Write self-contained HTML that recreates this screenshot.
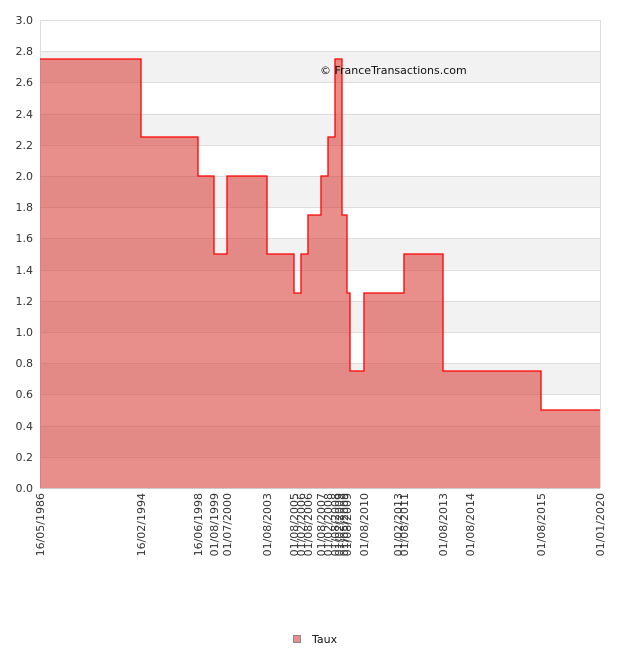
<!DOCTYPE html><html><head><meta charset="utf-8"><style>body{margin:0;background:#fff}svg{display:block;font-family:"DejaVu Sans","Liberation Sans",sans-serif}</style></head><body>
<svg width="640" height="650" viewBox="0 0 640 650">
<rect width="640" height="650" fill="#fff"/>
<g fill="#f2f2f2">
<rect x="40" y="51.2" width="560" height="31.2"/>
<rect x="40" y="113.6" width="560" height="31.2"/>
<rect x="40" y="176" width="560" height="31.2"/>
<rect x="40" y="238.4" width="560" height="31.2"/>
<rect x="40" y="300.8" width="560" height="31.2"/>
<rect x="40" y="363.2" width="560" height="31.2"/>
<rect x="40" y="425.6" width="560" height="31.2"/>
</g>
<g stroke="#ddd" stroke-width="1">
<line x1="40" x2="600" y1="20.5" y2="20.5"/><line x1="40" x2="600" y1="51.5" y2="51.5"/><line x1="40" x2="600" y1="82.5" y2="82.5"/><line x1="40" x2="600" y1="114.5" y2="114.5"/><line x1="40" x2="600" y1="145.5" y2="145.5"/><line x1="40" x2="600" y1="176.5" y2="176.5"/><line x1="40" x2="600" y1="207.5" y2="207.5"/><line x1="40" x2="600" y1="238.5" y2="238.5"/><line x1="40" x2="600" y1="270.5" y2="270.5"/><line x1="40" x2="600" y1="301.5" y2="301.5"/><line x1="40" x2="600" y1="332.5" y2="332.5"/><line x1="40" x2="600" y1="363.5" y2="363.5"/><line x1="40" x2="600" y1="394.5" y2="394.5"/><line x1="40" x2="600" y1="426.5" y2="426.5"/><line x1="40" x2="600" y1="457.5" y2="457.5"/><line x1="40.5" x2="40.5" y1="20" y2="488"/><line x1="600.5" x2="600.5" y1="20" y2="488"/>
</g>
<path d="M40 488 L40 59 L141 59 L141 137 L198 137 L198 176 L214 176 L214 254 L227 254 L227 176 L267 176 L267 254 L294 254 L294 293 L301 293 L301 254 L308 254 L308 215 L321 215 L321 176 L328 176 L328 137 L335 137 L335 59 L342 59 L342 215 L347 215 L347 293 L350 293 L350 371 L364 371 L364 293 L404 293 L404 254 L443 254 L443 371 L541 371 L541 410 L600 410 L600 488 Z" fill="rgba(217,68,62,0.6)" stroke="none"/>
<path d="M40 59 L141 59 L141 137 L198 137 L198 176 L214 176 L214 254 L227 254 L227 176 L267 176 L267 254 L294 254 L294 293 L301 293 L301 254 L308 254 L308 215 L321 215 L321 176 L328 176 L328 137 L335 137 L335 59 L342 59 L342 215 L347 215 L347 293 L350 293 L350 371 L364 371 L364 293 L404 293 L404 254 L443 254 L443 371 L541 371 L541 410 L600 410" fill="none" stroke="#f00" stroke-width="1.3"/>
<line x1="40" x2="600" y1="488.5" y2="488.5" stroke="#ccc"/>
<g font-size="11" fill="#333" text-anchor="end">
<text x="33" y="24">3.0</text><text x="33" y="55">2.8</text><text x="33" y="86">2.6</text><text x="33" y="118">2.4</text><text x="33" y="149">2.2</text><text x="33" y="180">2.0</text><text x="33" y="211">1.8</text><text x="33" y="242">1.6</text><text x="33" y="274">1.4</text><text x="33" y="305">1.2</text><text x="33" y="336">1.0</text><text x="33" y="367">0.8</text><text x="33" y="398">0.6</text><text x="33" y="430">0.4</text><text x="33" y="461">0.2</text><text x="33" y="492">0.0</text>
</g>
<g font-size="11" fill="#333" text-anchor="end">
<text transform="translate(44,493) rotate(-90)">16/05/1986</text>
<text transform="translate(145,493) rotate(-90)">16/02/1994</text>
<text transform="translate(202,493) rotate(-90)">16/06/1998</text>
<text transform="translate(218,493) rotate(-90)">01/08/1999</text>
<text transform="translate(231,493) rotate(-90)">01/07/2000</text>
<text transform="translate(271,493) rotate(-90)">01/08/2003</text>
<text transform="translate(298,493) rotate(-90)">01/08/2005</text>
<text transform="translate(305,493) rotate(-90)">01/02/2006</text>
<text transform="translate(312,493) rotate(-90)">01/08/2006</text>
<text transform="translate(325,493) rotate(-90)">01/08/2007</text>
<text transform="translate(332,493) rotate(-90)">01/02/2008</text>
<text transform="translate(339,493) rotate(-90)">01/08/2008</text>
<text transform="translate(343,493) rotate(-90)">01/02/2009</text>
<text transform="translate(348,493) rotate(-90)">01/05/2009</text>
<text transform="translate(351,493) rotate(-90)">01/08/2009</text>
<text transform="translate(368,493) rotate(-90)">01/08/2010</text>
<text transform="translate(402,493) rotate(-90)">01/02/2013</text>
<text transform="translate(408,493) rotate(-90)">01/08/2011</text>
<text transform="translate(447,493) rotate(-90)">01/08/2013</text>
<text transform="translate(474,493) rotate(-90)">01/08/2014</text>
<text transform="translate(545,493) rotate(-90)">01/08/2015</text>
<text transform="translate(604,493) rotate(-90)">01/01/2020</text>
</g>
<text x="320" y="74" font-size="11" fill="#111">© FranceTransactions.com</text>
<rect x="293.5" y="635.5" width="7" height="7" fill="rgba(217,68,62,0.6)" stroke="#888"/>
<text x="312" y="643" font-size="11" fill="#111">Taux</text>
</svg>
</body></html>
